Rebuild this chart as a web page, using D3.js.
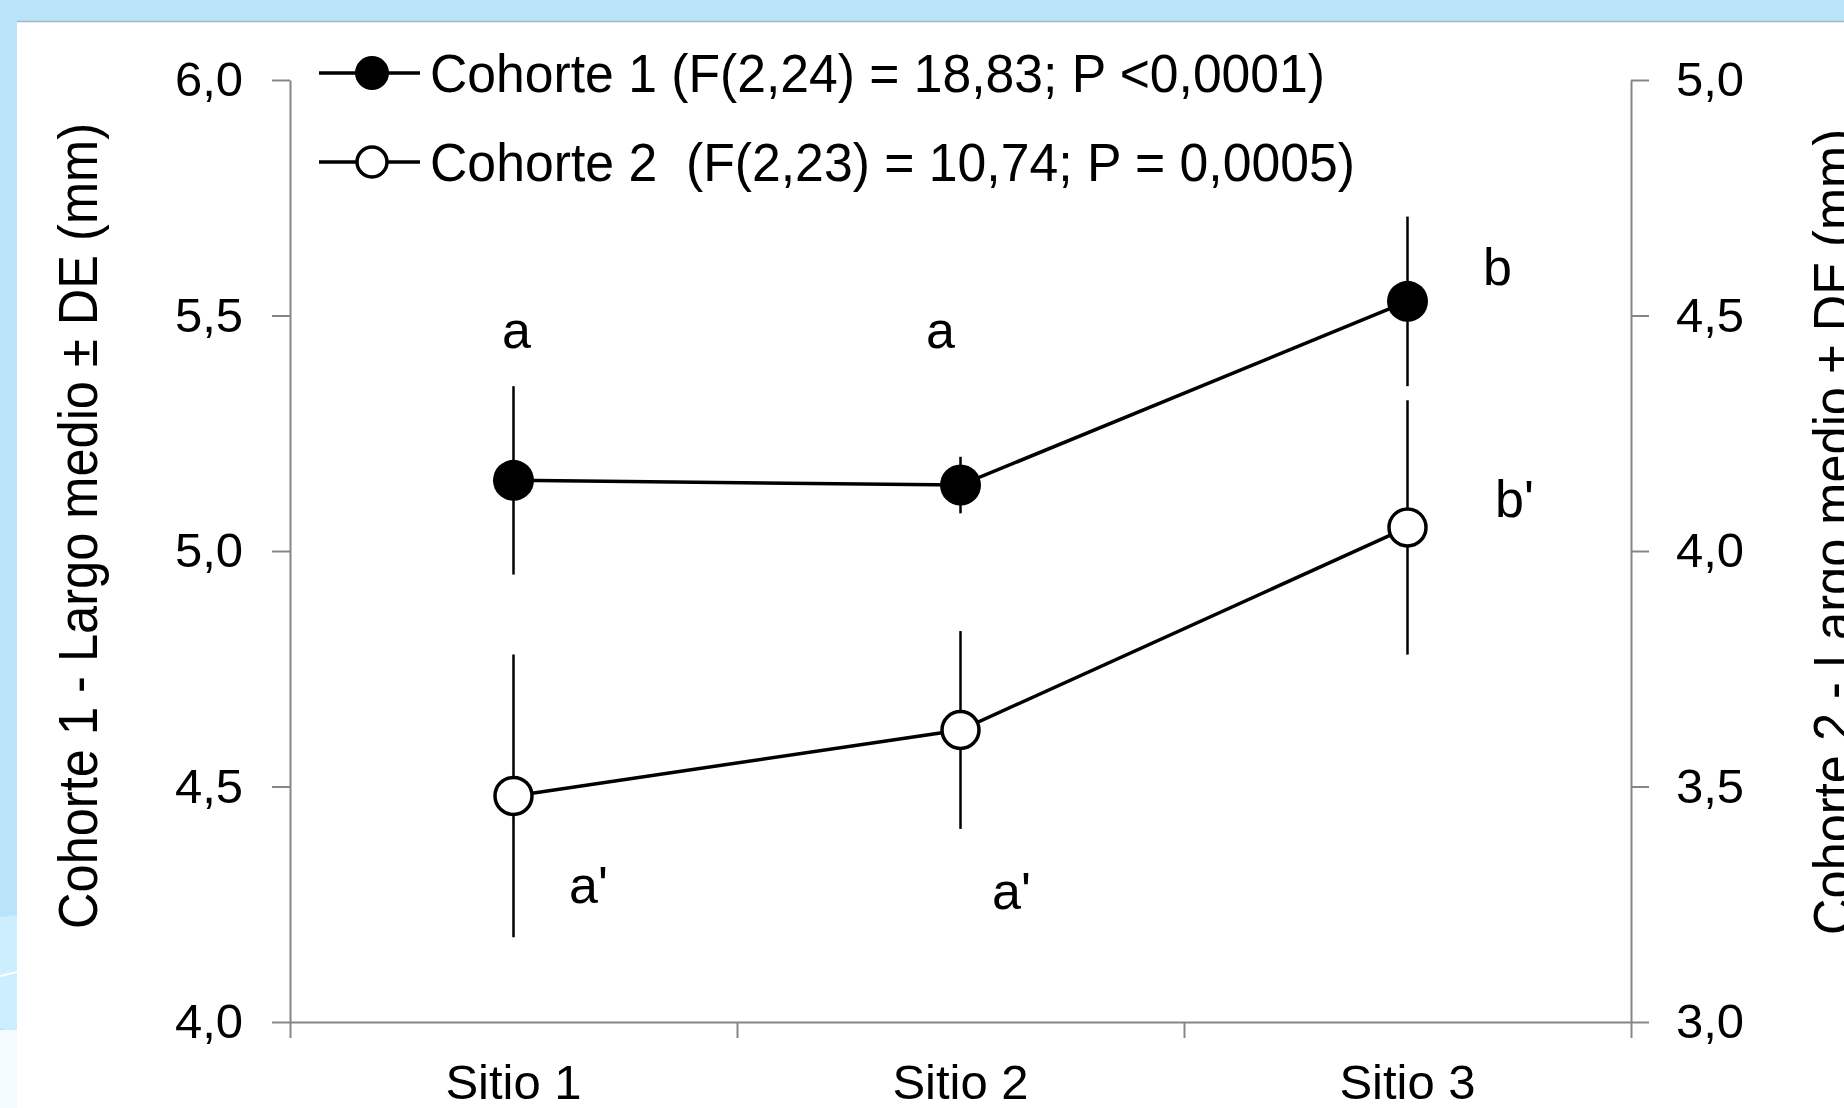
<!DOCTYPE html>
<html>
<head>
<meta charset="utf-8">
<script src="https://cdn.jsdelivr.net/npm/d3@7"></script>
<style>
  html, body { margin: 0; padding: 0; background: #b9e4fa; overflow: hidden; }
  svg { display: block; font-family: "Liberation Sans", Arial, sans-serif; }
</style>
</head>
<body>
<script>
// data
const sites = ["Sitio 1", "Sitio 2", "Sitio 3"];
const cohorte1 = [5.15, 5.14, 5.53];
const cohorte1DE = [0.20, 0.06, 0.18];
const cohorte2 = [3.48, 3.62, 4.05];
const cohorte2DE = [0.30, 0.21, 0.27];
const letras1 = ["a", "a", "b"];
const letras2 = ["a'", "a'", "b'"];
const ticksLeft = [4.0, 4.5, 5.0, 5.5, 6.0];
const ticksRight = [3.0, 3.5, 4.0, 4.5, 5.0];
const legend1 = "Cohorte 1 (F(2,24) = 18,83; P <0,0001)";
const legend2 = "Cohorte 2  (F(2,23) = 10,74; P = 0,0005)";
const titleLeft = "Cohorte 1 - Largo medio ± DE (mm)";
const titleRight = "Cohorte 2 - Largo medio ± DE (mm)";

const W = 1844, H = 1108;
const svg = d3.select("body").append("svg").attr("width", W).attr("height", H);

// slide background
svg.append("rect").attr("width", W).attr("height", H).attr("fill", "#b9e4fa");
svg.append("path").attr("d", "M0,917 L17,915 L17,1033 L0,1028 Z").attr("fill", "#cdeefd");
svg.append("path").attr("d", "M0,976 L17,972").attr("stroke", "#fff").attr("stroke-width", 2);
svg.append("rect").attr("x", 0).attr("y", 1030).attr("width", 17).attr("height", 78).attr("fill", "#f4fbff");
svg.append("rect").attr("x", 17).attr("y", 21).attr("width", W - 17).attr("height", H - 21).attr("fill", "#fff");
svg.append("line").attr("x1", 17).attr("x2", W).attr("y1", 21.5).attr("y2", 21.5)
  .attr("stroke", "#9fb6c4").attr("stroke-width", 1.5);

const pLeft = 290, pRight = 1631, pTop = 80, pBottom = 1022;
const x = d3.scaleBand().domain(sites).range([pLeft, pRight]);
const xEdge = d3.scaleLinear().domain([0, sites.length]).range([pLeft, pRight]);
const yL = d3.scaleLinear().domain([4, 6]).range([pBottom, pTop]);
const yR = d3.scaleLinear().domain([3, 5]).range([pBottom, pTop]);
const fmt = d => d3.format(".1f")(d).replace(".", ",");
const cx = s => x(s) + x.bandwidth() / 2;

const axisColor = "#868686";
const styleAxis = g => {
  g.selectAll(".domain, .tick line").attr("stroke", axisColor).attr("stroke-width", 2);
  g.selectAll("text").attr("fill", "#000").attr("font-size", 49).attr("font-family", null);
};

svg.append("g").attr("transform", `translate(${pLeft},0)`)
  .call(d3.axisLeft(yL).tickValues(ticksLeft).tickFormat(fmt).tickSize(18).tickSizeOuter(0).tickPadding(29))
  .call(styleAxis);
svg.append("g").attr("transform", `translate(${pRight},0)`)
  .call(d3.axisRight(yR).tickValues(ticksRight).tickFormat(fmt).tickSize(18).tickSizeOuter(0).tickPadding(27))
  .call(styleAxis);
svg.append("g").attr("transform", `translate(0,${pBottom})`)
  .call(d3.axisBottom(xEdge).tickValues(d3.range(sites.length + 1)).tickFormat("").tickSize(16).tickSizeOuter(0))
  .call(styleAxis);
svg.append("g").attr("transform", `translate(0,${pBottom})`)
  .call(d3.axisBottom(x).tickSize(0).tickPadding(42))
  .call(g => g.select(".domain").remove())
  .call(styleAxis)
  .selectAll("text").attr("dy", "0.71em");

// axis titles (narrow face, like the original)
const titleStyle = sel => sel.attr("text-anchor", "middle").attr("font-size", 56)
  .attr("textLength", 806).attr("lengthAdjust", "spacingAndGlyphs");
svg.append("text").attr("transform", `translate(97,526) rotate(-90)`)
  .call(titleStyle).text(titleLeft);
svg.append("text").attr("transform", `translate(1852,532) rotate(-90)`)
  .call(titleStyle).text(titleRight);

const series = [
  { mean: cohorte1, de: cohorte1DE, y: yL, filled: true },
  { mean: cohorte2, de: cohorte2DE, y: yR, filled: false }
];

series.forEach(s => {
  const pts = sites.map((site, i) => ({ site, m: s.mean[i], d: s.de[i] }));
  svg.append("g").selectAll("line").data(pts).join("line")
    .attr("x1", d => cx(d.site)).attr("x2", d => cx(d.site))
    .attr("y1", d => s.y(d.m + d.d)).attr("y2", d => s.y(d.m - d.d))
    .attr("stroke", "#000").attr("stroke-width", 2.5);
  svg.append("path").datum(pts)
    .attr("d", d3.line().x(d => cx(d.site)).y(d => s.y(d.m)))
    .attr("fill", "none").attr("stroke", "#000").attr("stroke-width", 3.5);
  svg.append("g").selectAll("circle").data(pts).join("circle")
    .attr("cx", d => cx(d.site)).attr("cy", d => s.y(d.m))
    .attr("r", s.filled ? 20.5 : 18.5)
    .attr("fill", s.filled ? "#000" : "#fff")
    .attr("stroke", "#000").attr("stroke-width", s.filled ? 0 : 3.5);
});

// significance letters, placed by hand next to each point (value units + px offset)
const letterPlace1 = [[5.43, 3], [5.43, -20], [5.565, 90]];
const letterPlace2 = [[3.253, 75], [3.24, 51], [4.072, 107]];
const letterStyle = sel => sel.attr("text-anchor", "middle").attr("font-size", 52);
svg.append("g").selectAll("text").data(letras1).join("text")
  .attr("x", (d, i) => cx(sites[i]) + letterPlace1[i][1])
  .attr("y", (d, i) => yL(letterPlace1[i][0]))
  .call(letterStyle).text(d => d);
svg.append("g").selectAll("text").data(letras2).join("text")
  .attr("x", (d, i) => cx(sites[i]) + letterPlace2[i][1])
  .attr("y", (d, i) => yR(letterPlace2[i][0]))
  .call(letterStyle).text(d => d);

// legend
const lg = svg.append("g");
[[legend1, true, 73, 895], [legend2, false, 162, 925]].forEach(([label, filled, ly, len]) => {
  lg.append("line").attr("x1", 319).attr("x2", 420).attr("y1", ly).attr("y2", ly)
    .attr("stroke", "#000").attr("stroke-width", 3.5);
  lg.append("circle").attr("cx", 372).attr("cy", ly).attr("r", filled ? 17 : 15)
    .attr("fill", filled ? "#000" : "#fff").attr("stroke", "#000").attr("stroke-width", filled ? 0 : 3.5);
  lg.append("text").attr("x", 430).attr("y", ly).attr("dy", "0.36em")
    .style("white-space", "pre").attr("xml:space", "preserve")
    .attr("font-size", 53).attr("textLength", len).attr("lengthAdjust", "spacingAndGlyphs")
    .text(label);
});
</script>
</body>
</html>
